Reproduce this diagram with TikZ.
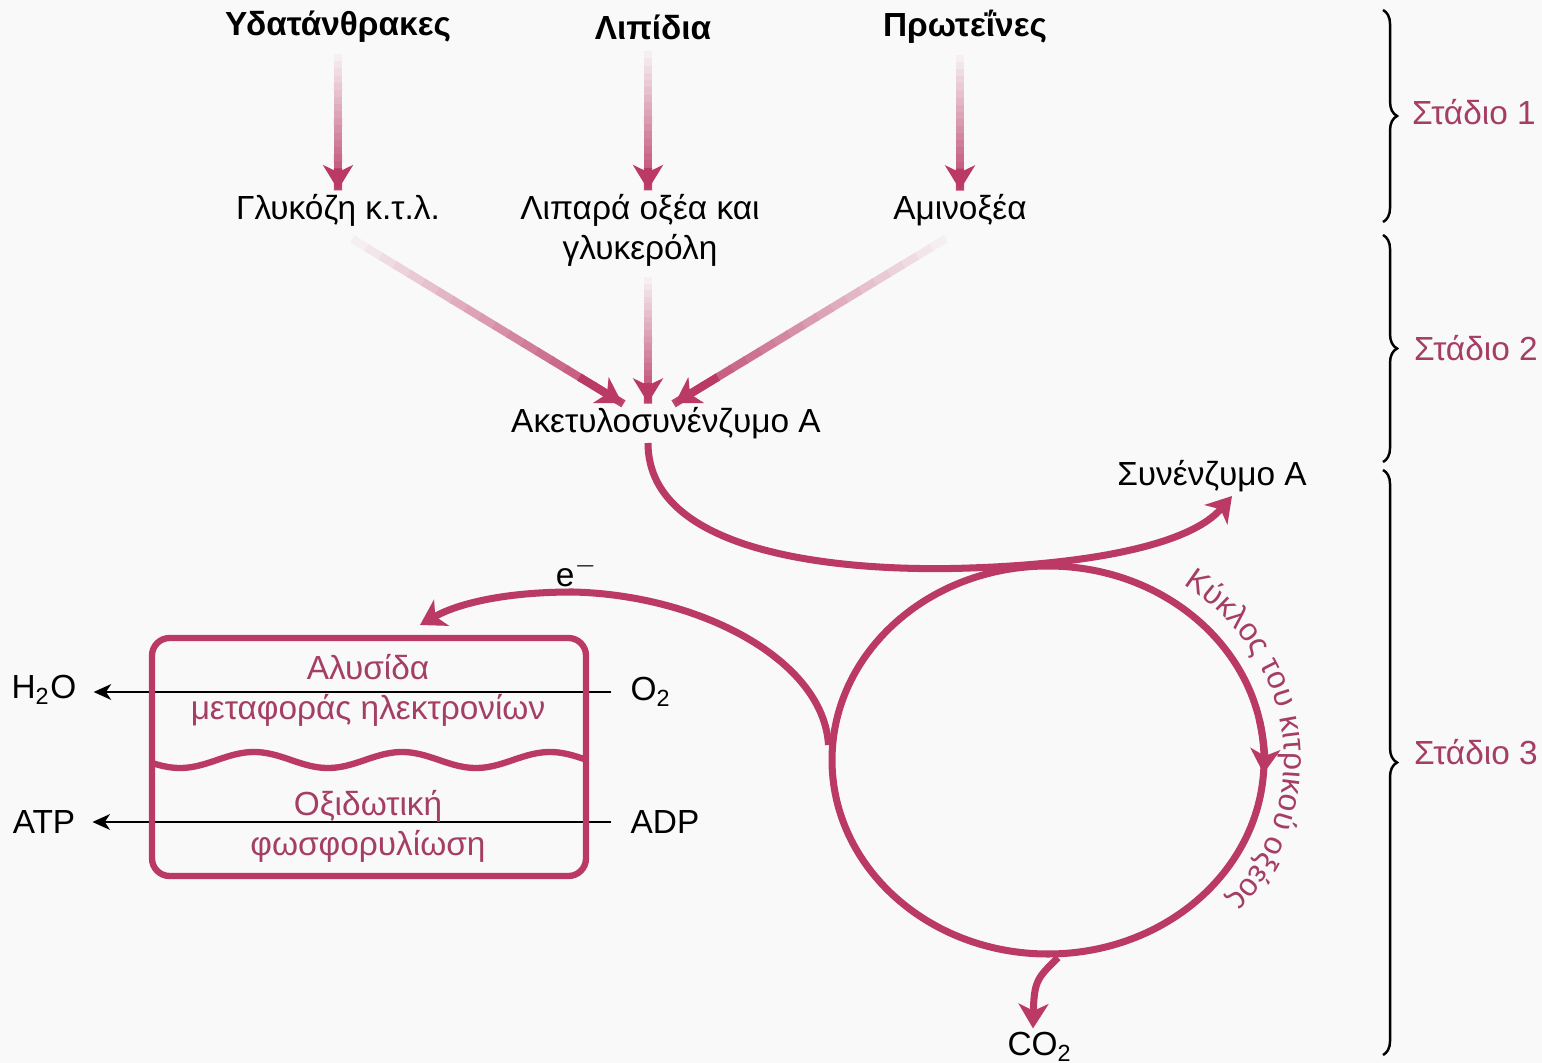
\documentclass[tikz,border=0pt]{standalone}
\usepackage{fontspec}
\setmainfont{Liberation Sans}
\usepackage{tikz}
\usepackage{xcolor}
\usetikzlibrary{arrows.meta,calc,shapes.geometric,decorations.pathreplacing,decorations.text}

\definecolor{cyc}{RGB}{186,58,101}
\definecolor{stg}{RGB}{165,62,100}
\definecolor{bg}{RGB}{249,249,249}

\tikzset{
  txt/.style={font=\fontsize{9.5}{11.4}\selectfont, inner sep=1pt, align=center},
  head/.style={txt, font=\fontsize{9.5}{11.4}\selectfont\bfseries},
  stage/.style={txt, text=stg, anchor=west},
  cycline/.style={draw=cyc, line width=2pt},
  cyctip/.style={-{Stealth[length=7pt,width=8.5pt,inset=2pt]}},
  thinarrow/.style={draw=black, line width=0.5pt, -{Stealth[length=5pt,width=4.5pt,inset=1.5pt]}},
  bracer/.style={decorate, decoration={brace, amplitude=4pt}, line width=0.7pt},
}

\newcommand{\fadearrow}[2]{%
  \foreach \k in {0,...,19}{
    \pgfmathtruncatemacro{\p}{5*\k}
    \draw[line width=2.3pt, cyc!\p!bg] ($(#1)!\k/20!(#2)$) -- ($(#1)!{(\k+1.1)/20}!(#2)$);
  }
  \draw[cyc, line width=2.3pt, cyctip] ($(#1)!0.85!(#2)$) -- (#2);
}

\begin{document}
\begin{tikzpicture}
\useasboundingbox (0,0) rectangle (15.42,-10.63);
\fill[bg] (0,0) rectangle (15.42,-10.63);

\node[head] (carb) at (3.38,-0.27) {Υδατάνθρακες};
\node[head] (lip) at (6.53,-0.27) {Λιπίδια};
\node[head] (prot) at (9.65,-0.27) {Πρωτεΐνες};
\node[txt] (gluc) at (3.38,-2.10) {Γλυκόζη κ.τ.λ.};
\node[txt] (fat) at (6.40,-2.30) {Λιπαρά οξέα και\\γλυκερόλη};
\node[txt] (amino) at (9.60,-2.10) {Αμινοξέα};
\node[txt] (acoa) at (6.66,-4.23) {Ακετυλοσυνένζυμο A};
\node[txt] (coa) at (12.12,-4.76) {Συνένζυμο A};

\coordinate (l1) at ([xshift=-0.5mm]lip.south);
\coordinate (l2) at (l1 |- fat.north);
\coordinate (p1) at (prot.south -| amino.north);
\coordinate (a1) at ([xshift=-4.4mm]acoa.north);
\coordinate (a2) at ([xshift=-1.8mm]acoa.north);
\coordinate (a3) at ([xshift=0.9mm]acoa.north);
\coordinate (f1) at (a2 |- fat.south);

\fadearrow{carb.south}{gluc.north}
\fadearrow{l1}{l2}
\fadearrow{p1}{amino.north}
\fadearrow{gluc.south}{a1}
\fadearrow{f1}{a2}
\fadearrow{amino.south}{a3}

\node[ellipse, draw=cyc, line width=2pt, minimum width=4.32cm, minimum height=3.88cm, inner sep=0pt] (tca) at (10.48,-7.60) {};
\draw[cycline, cyctip] ($(tca.center)+(12:2.16 and 1.94)$) arc[start angle=12, end angle=-4, x radius=2.16, y radius=1.94];
\path[decorate, decoration={text along path, text align=center,
  text={|\fontsize{9}{11}\selectfont\color{stg}|Κύκλος του κιτρικού οξέος}}]
  ($(tca.center)+(56:2.36 and 2.14)$) arc[start angle=56, end angle=-42, x radius=2.36, y radius=2.14];

\draw[cycline, cyctip] ([xshift=-1.8mm]acoa.south) .. controls (6.48,-5.6) and (8.6,-5.72) .. (9.7,-5.68)
  .. controls (10.9,-5.64) and (11.9,-5.45) .. ([xshift=2mm]coa.south);

\node[txt] (elec) at (5.77,-5.72) {e$^{-}$};
\coordinate (eend) at (4.20,-6.25);
\draw[cycline, cyctip] ([yshift=1.5mm]tca.west) .. controls +(-0.05,0.85) and (7.0,-5.95) .. (5.73,-5.92)
  .. controls (5.0,-5.92) and (4.55,-6.05) .. (eend);

\node[txt] (co2) at (10.40,-10.47) {CO\textsubscript{2}};
\draw[cycline, cyctip] ([xshift=1mm]tca.south) .. controls +(-0.2,-0.2) and (10.34,-9.8) .. ([xshift=-0.7mm]co2.north);

\node[txt] (h2o) at (0.44,-6.90) {H\textsubscript{2}O};
\node[txt] (o2) at (6.51,-6.92) {O\textsubscript{2}};
\node[txt] (atp) at (0.44,-8.22) {ATP};
\node[txt] (adp) at (6.65,-8.22) {ADP};
\draw[thinarrow, shorten <=1.5mm, shorten >=1.3mm] (o2.west) -- (o2.west -| h2o.east);
\draw[thinarrow, shorten <=1.5mm, shorten >=1.3mm] (adp.west) -- (adp.west -| atp.east);

\node[draw=cyc, line width=1.8pt, rounded corners=5pt, minimum width=4.34cm, minimum height=2.38cm] (ebox) at (3.69,-7.57) {};
\draw[draw=cyc, line width=1.8pt] plot[domain=1.52:5.86, samples=90, smooth] (\x,{-7.60-0.08*cos(360*(\x-1.80)/1.48)});
\node[txt, text=stg] (chain) at (3.68,-6.905) {Αλυσίδα\\μεταφοράς ηλεκτρονίων};
\node[txt, text=stg] (oxph) at (3.68,-8.26) {Οξιδωτική\\φωσφορυλίωση};

\draw[bracer] (13.83,-0.10) -- (13.83,-2.22);
\draw[bracer] (13.83,-2.35) -- (13.83,-4.62);
\draw[bracer] (13.83,-4.70) -- (13.83,-10.55);
\node[stage] (st1) at (14.08,-1.12) {Στάδιο 1};
\node[stage] (st2) at (14.10,-3.48) {Στάδιο 2};
\node[stage] (st3) at (14.10,-7.52) {Στάδιο 3};
\end{tikzpicture}
\end{document}
